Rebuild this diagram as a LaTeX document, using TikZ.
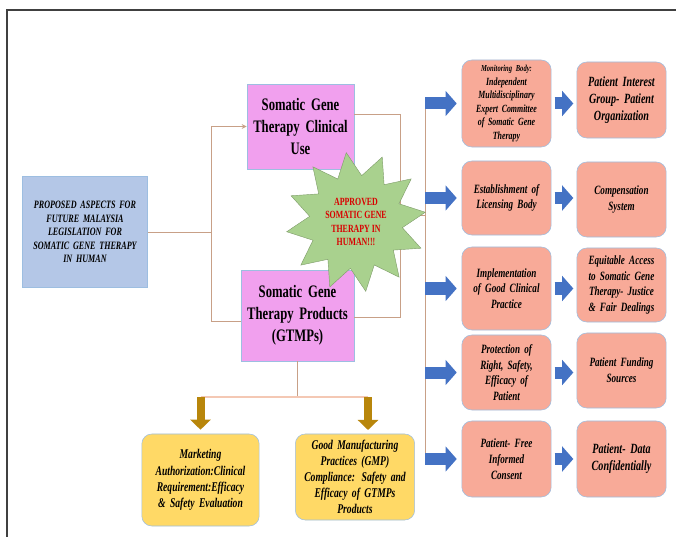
\documentclass[tikz,border=0pt]{standalone}
\usepackage{fontspec}
\setmainfont{Liberation Serif}[FakeStretch=0.72]
\usetikzlibrary{shapes.geometric,arrows.meta}

\definecolor{legalblue}{RGB}{180,199,231}
\definecolor{usepink}{RGB}{241,160,238}
\definecolor{aspectsalmon}{RGB}{248,170,152}
\definecolor{compgold}{RGB}{255,217,102}
\definecolor{stargreen}{RGB}{169,209,142}
\definecolor{linktan}{RGB}{200,160,135}
\definecolor{linkpink}{RGB}{244,200,180}
\definecolor{pushblue}{RGB}{68,114,196}
\definecolor{pushgold}{RGB}{184,134,11}
\definecolor{rimblue}{RGB}{157,190,225}

\begin{document}
\begin{tikzpicture}[x=0.025cm, y=-0.025cm,
    legalbox/.style={rectangle, draw=rimblue, fill=legalblue, align=center,
        font=\fontsize{8}{9.6}\selectfont\bfseries\itshape},
    usebox/.style={rectangle, draw=rimblue, fill=usepink, align=center,
        font=\fontsize{12.5}{15.5}\selectfont\bfseries},
    aspectbox/.style={rectangle, rounded corners=0.25cm, draw=rimblue, fill=aspectsalmon,
        align=center, minimum width=2.175cm, text width=2.0cm,
        font=\fontsize{9}{11.2}\selectfont\bfseries\itshape},
    compbox/.style={rectangle, rounded corners=0.25cm, draw=rimblue, fill=compgold,
        align=center, font=\fontsize{9.5}{11.5}\selectfont\bfseries\itshape},
    tanline/.style={draw=linktan, line width=0.6pt},
    bluepush/.style={draw=pushblue, line width=0.3cm, line cap=butt,
        -{Triangle[width=0.62cm,length=0.28cm]}},
    goldpush/.style={draw=pushgold, line width=0.2cm, line cap=butt,
        -{Triangle[width=0.5cm,length=0.25cm]}}]
\useasboundingbox (0,0) rectangle (676,537);

% frame
\draw[line width=0.05cm, black!75] (7,537) -- (7,10) -- (676,10);

% left and middle
\node[legalbox, minimum width=3.1cm, minimum height=2.775cm, text width=2.9cm] (legal) at (85,232)
    {PROPOSED ASPECTS FOR\\ FUTURE MALAYSIA\\ LEGISLATION FOR\\ SOMATIC GENE THERAPY\\ IN HUMAN};
\node[usebox, minimum width=2.575cm, minimum height=2.125cm, text width=2.45cm] (clinic) at (300.5,126.5)
    {Somatic Gene\\ Therapy Clinical\\ Use};
\node[usebox, minimum width=2.775cm, minimum height=2.275cm, text width=2.6cm] (products) at (297.5,315.5)
    {Somatic Gene\\ Therapy Products\\ (GTMPs)};

% right column, first boxes
\node[aspectbox, minimum height=2.175cm, font=\fontsize{7.8}{9.6}\selectfont\bfseries\itshape] (monitor) at (506.5,103.5)
    {{\fontsize{6.5}{9.6}\selectfont Monitoring Body:}\\ Independent\\ Multidisciplinary\\ Expert Committee\\ of Somatic Gene\\ Therapy};
\node[aspectbox, minimum height=1.85cm] (licensing) at (506.5,198)
    {Establishment of\\ Licensing Body};
\node[aspectbox, minimum height=2.075cm] (gcp) at (506.5,288.5)
    {Implementation\\ of Good Clinical\\ Practice};
\node[aspectbox, minimum height=1.875cm] (protection) at (506.5,372.5)
    {Protection of\\ Right, Safety,\\ Efficacy of\\ Patient};
\node[aspectbox, minimum height=1.9cm] (consent) at (506.5,459)
    {Patient- Free\\ Informed\\ Consent};

% right column, second boxes
\node[aspectbox, minimum height=1.9cm, font=\fontsize{10}{12}\selectfont\bfseries\itshape] (patientgroup) at (621.5,100)
    {Patient Interest\\ Group- Patient\\ Organization};
\node[aspectbox, minimum height=1.875cm] (compensation) at (621.5,199.5)
    {Compensation\\ System};
\node[aspectbox, minimum height=1.85cm] (access) at (621.5,285)
    {Equitable Access\\ to Somatic Gene\\ Therapy- Justice\\ \& Fair Dealings};
\node[aspectbox, minimum height=1.875cm] (funding) at (621.5,370.5)
    {Patient Funding\\ Sources};
\node[aspectbox, minimum height=1.9cm, font=\fontsize{10}{12}\selectfont\bfseries\itshape] (dataconf) at (621.5,459)
    {Patient- Data\\ Confidentially};

% bottom boxes
\node[compbox, minimum width=2.875cm, minimum height=2.3cm, text width=2.7cm] (marketing) at (200.5,480)
    {Marketing\\ Authorization:Clinical\\ Requirement:Efficacy\\ \& Safety Evaluation};
\node[compbox, minimum width=2.9cm, minimum height=2.15cm, text width=2.75cm] (gmp) at (355,477)
    {Good Manufacturing\\ Practices (GMP)\\ Compliance: Safety and\\ Efficacy of GTMPs\\ Products};

% connectors on the left
\coordinate (legalsplit) at (211,232);
\draw[tanline] (legal.east) -- (legalsplit);
\draw[tanline, -{Stealth[length=1.2mm,width=1.2mm]}] (legalsplit) |- (clinic.west);
\draw[tanline] (legalsplit) |- ([yshift=-0.14cm]products.west);

% connectors to the spine
\coordinate (join) at (400,215);
\coordinate (spinetop) at (425,103);
\coordinate (spinebot) at (425,460);
\draw[tanline] ([yshift=0.29cm]clinic.east) -| (join);
\draw[tanline] ([yshift=-0.06cm]products.east) -| (join);
\draw[tanline] (join) -- (join -| spinetop);
\draw[tanline] (spinetop) -- (spinebot);

% star on top
\node[star, star points=12, star point ratio=1.5, minimum size=3.5cm, inner sep=0pt, shape border rotate=8,
    draw=stargreen!75!black, line width=0.3pt, fill=stargreen, text=red!85!black, align=center,
    font=\fontsize{7.8}{9.4}\selectfont\bfseries] (approved) at (356,222)
    {APPROVED\\ SOMATIC GENE\\ THERAPY IN\\ HUMAN!!!};

% blue block arrows
\foreach \aspect in {monitor,licensing,gcp,protection,consent}
    \draw[bluepush, shorten >=0.12cm] (\aspect.west -| spinetop) -- (\aspect.west);
\draw[bluepush, shorten <=0.08cm, shorten >=0.08cm] (monitor.east) -- (monitor.east -| patientgroup.west);
\draw[bluepush, shorten <=0.08cm, shorten >=0.08cm] (licensing.east) -- (licensing.east -| compensation.west);
\draw[bluepush, shorten <=0.08cm, shorten >=0.08cm] (gcp.east) -- (gcp.east -| access.west);
\draw[bluepush, shorten <=0.08cm, shorten >=0.08cm] (protection.east) -- (protection.east -| funding.west);
\draw[bluepush, shorten <=0.08cm, shorten >=0.08cm] (consent.east) -- (consent.east -| dataconf.west);

% bottom split and gold arrows
\coordinate (prodsplit) at (297.5,397);
\coordinate (gmpin) at (368,434);
\draw[tanline] (products.south) -- (prodsplit);
\draw[draw=linkpink, line width=1.2pt] (marketing.north |- prodsplit) -- (gmpin |- prodsplit);
\draw[goldpush, shorten >=0.1cm] (marketing.north |- prodsplit) -- (marketing.north);
\draw[goldpush, shorten >=0.1cm] (gmpin |- prodsplit) -- (gmpin);
\end{tikzpicture}
\end{document}
